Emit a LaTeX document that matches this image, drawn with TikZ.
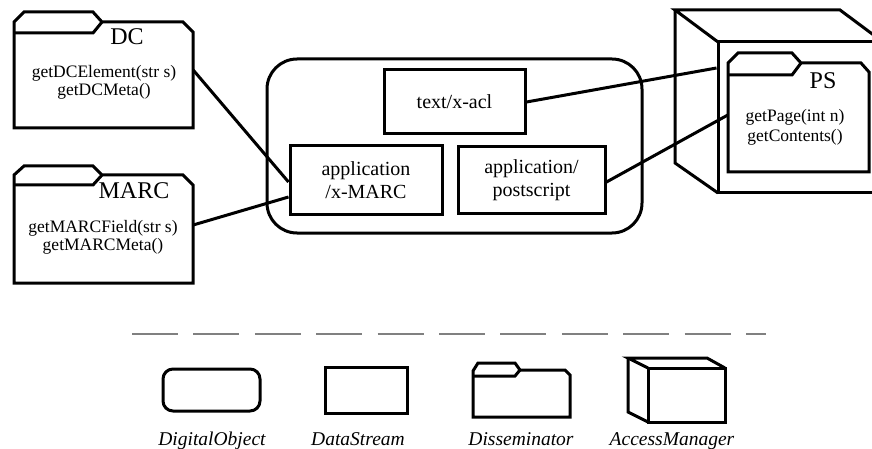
\documentclass[tikz,border=0pt]{standalone}
\usepackage{fontspec}
\setmainfont{Liberation Serif}
\newfontfamily\timesfam{Liberation Serif}
\usetikzlibrary{calc}
\begin{document}
\begin{tikzpicture}[x=1pt,y=-1pt, line join=miter,
  shp/.style={draw=black, line width=3pt},
  holder/.style={inner sep=0pt, draw=none},
  box/.style={draw=black, line width=3pt, inner sep=0pt, align=center, font=\timesfam\fontsize{20}{23}\selectfont},
  ttl/.style={font=\timesfam\fontsize{24}{28}\selectfont, inner sep=0pt, anchor=base},
  mth/.style={font=\timesfam\fontsize{17.5}{18}\selectfont, inner sep=0pt, align=center},
  lbl/.style={font=\timesfam\fontsize{19.5}{22}\selectfont\itshape, inner sep=0pt, anchor=base},
  conn/.style={line width=3pt},
  sep/.style={draw=black!50, line width=2pt, dash pattern=on 46pt off 15.4pt}]
\useasboundingbox (0,0) rectangle (872,449);
\clip (0,0) rectangle (872,449);

% ---------- DC disseminator ----------
\draw[shp] (14,22) -- (24,12) -- (93,12) -- (102,22) -- (183,22) -- (193,32) -- (193,128) -- (14,128) -- cycle;
\draw[shp] (14,33) -- (93,33) -- (102,22);
\node[holder, minimum width=179pt, minimum height=106pt] (dc) at (103.5,75) {};
\node[ttl] (dct) at (127,45) {DC};
\node[mth] (dcm) at (104,82) {getDCElement(str s)\\getDCMeta()};

% ---------- MARC disseminator ----------
\draw[shp] (14,175) -- (24,166) -- (93,166) -- (102,175) -- (183,175) -- (193,185) -- (193,283) -- (14,283) -- cycle;
\draw[shp] (14,185) -- (93,185) -- (102,175);
\node[holder, minimum width=179pt, minimum height=108pt] (marc) at (103.5,229) {};
\node[ttl] (marct) at (134,199) {MARC};
\node[mth] (marcm) at (103,237) {getMARCField(str s)\\getMARCMeta()};

% ---------- Digital object ----------
\node[draw=black, line width=3pt, rounded corners=30pt, minimum width=375pt, minimum height=174pt] (do) at (454.5,146) {};
\node[box, minimum width=141pt, minimum height=64pt] (xacl) at (454.5,102) {text/x-acl};
\node[box, minimum width=152pt, minimum height=68pt] (xmarc) at (366,180) {application\\/x-MARC};
\node[box, minimum width=147pt, minimum height=66pt] (xps) at (531.5,180) {application/\\postscript};

% ---------- Access manager ----------
\draw[shp] (718,42) -- (675,10) -- (840,10) -- (883,42);
\draw[shp] (675,10) -- (675,163) -- (718,193);
\node[shp, inner sep=0pt, minimum width=165pt, minimum height=151pt] (am) at (800.5,117.5) {};

% ---------- PS disseminator ----------
\draw[shp] (728,63) -- (738,53) -- (792,53) -- (801,63) -- (861,63) -- (869,72) -- (869,172) -- (728,172) -- cycle;
\draw[shp] (728,75) -- (792,75) -- (801,63);
\node[holder, minimum width=141pt, minimum height=109pt] (ps) at (798.5,117.5) {};
\node[ttl] (pst) at (823,89) {PS};
\node[mth, font=\timesfam\fontsize{17.5}{20}\selectfont] (psm) at (795,127) {getPage(int n)\\getContents()};

% ---------- connectors ----------
\draw[conn] ([yshift=5pt]dc.east) -- ([yshift=-2pt]xmarc.west);
\draw[conn] ([yshift=4pt]marc.east) -- ([yshift=-17pt]xmarc.west);
\draw[conn] (xacl.east) -- ([yshift=49.5pt]am.west);
\draw[conn] ([yshift=-2pt]xps.east) -- ([yshift=2.5pt]ps.west);

% ---------- separator ----------
\draw[sep] (132,334) -- (766,334);

% ---------- legend ----------
\node[draw=black, line width=3pt, rounded corners=10pt, minimum width=97pt, minimum height=42pt] (lgdo) at (211.5,390) {};
\node[draw=black, line width=3pt, minimum width=82pt, minimum height=46pt] (lgds) at (366,390) {};
\draw[shp] (473,371) -- (478,363) -- (515,363) -- (520,370) -- (565,370) -- (570,375) -- (570,417) -- (473,417) -- cycle;
\draw[shp] (473,376) -- (515,376) -- (520,370);
\draw[shp] (648,368) -- (628,358) -- (707,358) -- (725,368);
\draw[shp] (628,358) -- (628,412) -- (648,422);
\node[shp, inner sep=0pt, minimum width=77pt, minimum height=54pt] (lgam) at (686.5,395) {};

\node[lbl] (l1) at (212,445) {DigitalObject};
\node[lbl] (l2) at (358,445) {DataStream};
\node[lbl] (l3) at (521,445) {Disseminator};
\node[lbl] (l4) at (672,445) {AccessManager};
\end{tikzpicture}
\end{document}
